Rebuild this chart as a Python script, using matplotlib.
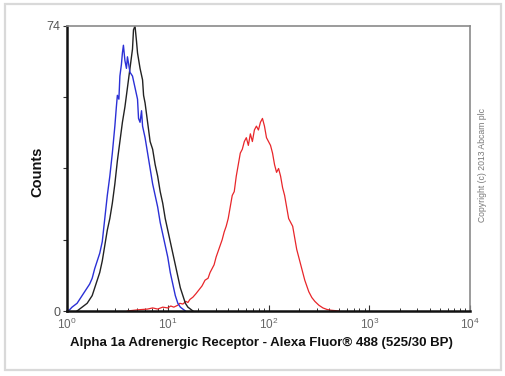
import matplotlib
matplotlib.use("Agg")
import matplotlib.pyplot as plt
from matplotlib.patches import Rectangle
import numpy as np

# ---- data (x in decades, log10 of fluorescence; y = counts) ----
black_dec = [0.10, 0.125, 0.15, 0.175, 0.20, 0.225, 0.25, 0.275, 0.30, 0.325, 0.35, 0.375,
             0.40, 0.425, 0.45, 0.475, 0.50, 0.525, 0.55, 0.575, 0.60, 0.625, 0.65, 0.66,
             0.675, 0.69, 0.70, 0.725, 0.75, 0.76, 0.775, 0.80, 0.825, 0.85, 0.875, 0.90,
             0.925, 0.95, 0.975, 1.00, 1.025, 1.05, 1.075, 1.10, 1.125, 1.15, 1.175, 1.20,
             1.225, 1.25]
black_cnt = [0, 0.5, 1, 1.5, 2, 3, 4, 6, 8, 10, 13, 17,
             21, 24, 28, 33, 39, 44, 49, 53, 58, 63, 68, 73,
             74, 70, 67, 63, 60, 56, 54, 49, 44, 42, 38, 35,
             31, 28, 24, 21, 18, 15, 12, 9, 6, 4, 2, 1,
             0.5, 0]

blue_dec = [0.00, 0.025, 0.05, 0.075, 0.10, 0.125, 0.15, 0.175, 0.20, 0.225, 0.25, 0.275,
            0.30, 0.325, 0.35, 0.375, 0.40, 0.425, 0.45, 0.475, 0.49, 0.50, 0.515, 0.525,
            0.54, 0.55, 0.56, 0.575, 0.59, 0.60, 0.625, 0.65, 0.675, 0.70, 0.71, 0.725,
            0.74, 0.75, 0.775, 0.80, 0.825, 0.85, 0.875, 0.90, 0.925, 0.95, 0.975, 1.00,
            1.025, 1.05, 1.075, 1.10, 1.125, 1.15, 1.175]
blue_cnt = [0, 0.3, 1, 1.5, 2, 3, 4, 5, 6, 7, 8.5, 11,
            13, 15, 18, 24, 30, 35, 41, 48, 53, 56, 55, 61,
            64, 67, 69, 65, 63, 66, 62, 61, 58, 55, 50, 49,
            52, 48, 45, 41, 37, 33, 30, 27, 23, 20, 17, 14,
            10, 7, 4, 2, 1, 0.5, 0]

red_dec = [0.60, 0.70, 0.80, 0.85, 0.90, 0.95, 1.00, 1.03, 1.06, 1.10, 1.12, 1.15,
           1.18, 1.20, 1.22, 1.25, 1.28, 1.31, 1.34, 1.37, 1.40, 1.42, 1.44, 1.46,
           1.48, 1.50, 1.52, 1.54, 1.56, 1.58, 1.60, 1.62, 1.64, 1.66, 1.68, 1.70,
           1.72, 1.74, 1.76, 1.78, 1.80, 1.82, 1.84, 1.86, 1.88, 1.90, 1.92, 1.94,
           1.96, 1.98, 2.00, 2.02, 2.04, 2.06, 2.08, 2.10, 2.12, 2.14, 2.16, 2.18,
           2.20, 2.22, 2.24, 2.26, 2.28, 2.30, 2.32, 2.34, 2.36, 2.38, 2.40, 2.43,
           2.46, 2.50, 2.54, 2.58, 2.62, 2.70]
red_cnt = [0, 0.3, 0.5, 0.8, 0.5, 1, 0.8, 1.3, 1, 1.5, 2, 1.8,
           2.5, 2.2, 3, 3.6, 4.5, 5.5, 6.5, 8, 8.5, 10, 11, 12,
           14, 15.5, 17, 18.5, 20.5, 22, 24, 27, 30, 31, 35, 38,
           41, 42, 44, 45, 43, 46, 44, 47, 48, 47, 49, 50,
           48, 45, 44, 43, 41, 38, 36, 37, 35, 32, 30, 27,
           24, 23, 22, 19, 16, 14, 12, 10, 8, 6.5, 5, 3.5,
           2.5, 1.5, 0.8, 0.4, 0.2, 0]

x_ticks = [1, 10, 100, 1000, 10000]
x_tick_labels = [r"$10^0$", r"$10^1$", r"$10^2$", r"$10^3$", r"$10^4$"]
y_ticks = [0, 18.5, 37, 55.5, 74]
y_tick_labels = ["0", "", "", "", "74"]
xlabel = "Alpha 1a Adrenergic Receptor - Alexa Fluor\u00ae 488 (525/30 BP)"
ylabel = "Counts"
copyright_text = "Copyright (c) 2013 Abcam plc"

plt.rcParams['font.family'] = ['Liberation Sans', 'DejaVu Sans']
plt.rcParams['mathtext.fontset'] = 'custom'
plt.rcParams['mathtext.rm'] = 'Liberation Sans'

W, H = 506, 376
fig = plt.figure(figsize=(W / 100, H / 100), dpi=100)
fig.patch.set_facecolor('white')

# outer light frame
fig.patches.append(Rectangle((5 / W, 1 - 370 / H), 496 / W, 366 / H, transform=fig.transFigure,
                             fill=False, edgecolor='#d9d9d9', linewidth=1.6))

L, R, T, B = 67, 470, 26, 311
ax = fig.add_axes([L / W, 1 - B / H, (R - L) / W, (B - T) / H])

ax.plot(10 ** np.array(red_dec), red_cnt, color='#e8262a', lw=0.9)
ax.plot(10 ** np.array(black_dec), black_cnt, color='#222222', lw=1.0)
ax.plot(10 ** np.array(blue_dec), blue_cnt, color='#2b30d6', lw=1.0)

ax.set_xscale('log')
ax.set_xlim(1, 10000)
ax.set_ylim(0, 74)
ax.set_xticks(x_ticks)
ax.set_xticklabels(x_tick_labels, color='#666666', fontsize=8.5)
ax.set_yticks(y_ticks)
ax.set_yticklabels(y_tick_labels, color='#555555', fontsize=9)
ax.tick_params(axis='x', which='major', direction='in', length=4, width=0.8, color='#333333', pad=4)
ax.tick_params(axis='x', which='minor', direction='in', length=2.5, width=0.7, color='#333333')
ax.tick_params(axis='y', which='major', direction='out', length=3, width=0.8, color='#333333', pad=2)

for s in ['left', 'bottom']:
    ax.spines[s].set_linewidth(1.8)
    ax.spines[s].set_color('#111111')
for s in ['top', 'right']:
    ax.spines[s].set_linewidth(1.2)
    ax.spines[s].set_color('#8a8a8a')

fig.text(261 / W, 1 - 343 / H, xlabel, ha='center', va='center', fontsize=9.5,
         fontweight='bold', color='#111111')
fig.text(37 / W, 1 - 172 / H, ylabel, ha='center', va='center', rotation=90, fontsize=10.5,
         fontweight='bold', color='#111111')
fig.text(483 / W, 1 - 165 / H, copyright_text, ha='center', va='center', rotation=90,
         fontsize=6.2, color='#777777')

fig.savefig('out.png', dpi=100, facecolor='white')
